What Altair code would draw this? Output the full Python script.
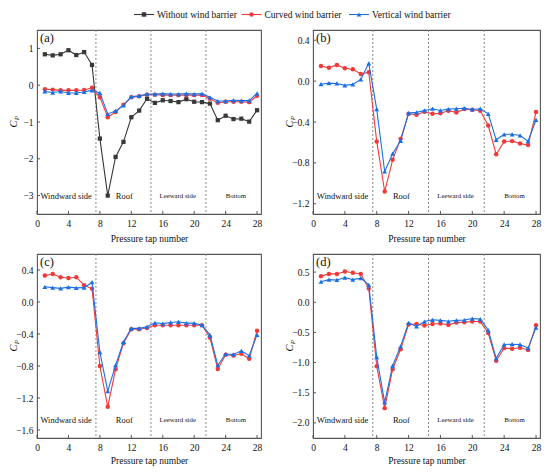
import altair as alt
import pandas as pd

FONT = "Liberation Serif"

taps = list(range(1, 29))
x_ticks = [0, 4, 8, 12, 16, 20, 24, 28]
series_names = ["Without wind barrier", "Curved wind barrier", "Vertical wind barrier"]
series_colors = ["#383838", "#f03a3a", "#1c6fe2"]
series_shapes = ["square", "circle", "triangle-up"]
series_sizes = [18, 20, 24]

divider_x = [7.5, 14.5, 21.5]
region_big = ["Windward side", "Roof"]
region_big_x = [3.7, 11.1]
region_small = ["Leeward side", "Bottom"]
region_small_x = [17.9, 25.3]

# Panel (a)
a_without = [0.84, 0.81, 0.84, 0.95, 0.82, 0.90, 0.55, -1.45, -3.0, -1.95, -1.54, -0.87, -0.69, -0.37,
             -0.48, -0.41, -0.43, -0.46, -0.38, -0.45, -0.46, -0.50, -0.95, -0.83, -0.92, -0.91, -0.99, -0.68]
a_curved = [-0.11, -0.12, -0.14, -0.14, -0.14, -0.13, -0.07, -0.33, -0.87, -0.73, -0.53, -0.33, -0.30, -0.26,
            -0.26, -0.27, -0.27, -0.27, -0.27, -0.27, -0.27, -0.37, -0.48, -0.45, -0.45, -0.45, -0.46, -0.29]
a_vertical = [-0.17, -0.20, -0.17, -0.21, -0.21, -0.18, -0.14, -0.21, -0.78, -0.70, -0.55, -0.31, -0.29, -0.24,
              -0.24, -0.23, -0.24, -0.24, -0.23, -0.24, -0.23, -0.33, -0.43, -0.43, -0.41, -0.42, -0.42, -0.22]
# Panel (b)
b_curved = [0.148, 0.13, 0.158, 0.126, 0.116, 0.07, 0.087, -0.59, -1.08, -0.77, -0.565, -0.32, -0.33, -0.30,
            -0.32, -0.315, -0.29, -0.306, -0.274, -0.28, -0.29, -0.435, -0.716, -0.59, -0.587, -0.61, -0.625, -0.303]
b_vertical = [-0.03, -0.02, -0.023, -0.042, -0.032, 0.016, 0.174, -0.274, -0.884, -0.71, -0.584, -0.313, -0.306, -0.287,
              -0.27, -0.287, -0.274, -0.27, -0.265, -0.277, -0.27, -0.32, -0.574, -0.52, -0.52, -0.532, -0.587, -0.38]
# Panel (c)
c_curved = [0.33, 0.35, 0.31, 0.30, 0.31, 0.21, 0.165, -0.80, -1.31, -0.84, -0.515, -0.34, -0.34, -0.325,
            -0.29, -0.29, -0.29, -0.29, -0.29, -0.29, -0.29, -0.445, -0.837, -0.66, -0.668, -0.647, -0.71, -0.36]
c_vertical = [0.19, 0.18, 0.17, 0.186, 0.177, 0.18, 0.247, -0.627, -1.113, -0.79, -0.50, -0.33, -0.33, -0.31,
              -0.26, -0.27, -0.256, -0.247, -0.264, -0.264, -0.29, -0.41, -0.79, -0.65, -0.656, -0.61, -0.67, -0.41]
# Panel (d)
d_curved = [0.43, 0.47, 0.47, 0.51, 0.49, 0.47, 0.23, -1.06, -1.755, -1.11, -0.78, -0.37, -0.36, -0.385,
            -0.36, -0.353, -0.375, -0.337, -0.33, -0.32, -0.32, -0.51, -0.97, -0.76, -0.77, -0.755, -0.79, -0.38]
d_vertical = [0.34, 0.375, 0.37, 0.41, 0.375, 0.40, 0.29, -0.91, -1.66, -1.05, -0.73, -0.34, -0.40, -0.32,
              -0.29, -0.30, -0.315, -0.30, -0.295, -0.27, -0.28, -0.46, -0.93, -0.70, -0.695, -0.70, -0.76, -0.42]

FRAME = "#555555"


def panel(label, series, ydomain, yticks, yfmt, W, H, title_pad):
    xs = alt.Scale(domain=[0, 28.5], nice=False, zero=False)
    ys = alt.Scale(domain=ydomain, nice=False, zero=False)
    xaxis = alt.Axis(values=x_ticks, title="Pressure tap number", ticks=False, grid=False, domain=False,
                     labelOverlap=False, labelFlush=False, labelBound=False, labelSeparation=0,
                     labelFont=FONT, labelFontSize=9.5, labelPadding=4, labelColor="#111",
                     titleFont=FONT, titleFontSize=9.5, titleFontWeight="normal", titleColor="#111",
                     titlePadding=title_pad)
    yaxis = alt.Axis(values=yticks, format=yfmt, title=None, ticks=False, grid=False, domain=False,
                     labelOverlap=False, labelFlush=False, labelBound=False, labelSeparation=0,
                     labelFont=FONT, labelFontSize=9.5, labelPadding=4, labelColor="#111")

    def X(field):
        return alt.X(field, scale=xs, axis=xaxis)

    def Y(field):
        return alt.Y(field, scale=ys, axis=yaxis)

    layers = []
    # dividers
    div_df = pd.DataFrame({"x": divider_x})
    layers.append(alt.Chart(div_df).mark_rule(color="#8a8a8a", strokeDash=[2, 2], strokeWidth=1).encode(
        x=X("x:Q")))
    # inner ticks
    layers.append(alt.Chart(pd.DataFrame({"x": x_ticks})).mark_rule(color=FRAME, strokeWidth=1).encode(
        x=X("x:Q"), y=alt.value(H), y2=alt.value(H - 3)))
    layers.append(alt.Chart(pd.DataFrame({"y": yticks})).mark_rule(color=FRAME, strokeWidth=1).encode(
        y=Y("y:Q"), x=alt.value(0), x2=alt.value(3)))
    # series
    for name, vals in series:
        i = series_names.index(name)
        df = pd.DataFrame({"tap": taps, "cp": vals})
        layers.append(alt.Chart(df).mark_line(color=series_colors[i], strokeWidth=1.1).encode(
            x=X("tap:Q"), y=Y("cp:Q")))
        layers.append(alt.Chart(df).mark_point(color=series_colors[i], filled=True, opacity=1,
                                               shape=series_shapes[i], size=series_sizes[i]).encode(
            x=X("tap:Q"), y=Y("cp:Q")))
    # region labels
    layers.append(alt.Chart(pd.DataFrame({"x": region_big_x, "t": region_big})).mark_text(
        font=FONT, fontSize=8.5, color="#111", baseline="middle").encode(
        x=X("x:Q"), y=alt.value(H - 18), text="t:N"))
    layers.append(alt.Chart(pd.DataFrame({"x": region_small_x, "t": region_small})).mark_text(
        font=FONT, fontSize=6.8, color="#111", baseline="middle").encode(
        x=X("x:Q"), y=alt.value(H - 18), text="t:N"))
    # panel label
    layers.append(alt.Chart(pd.DataFrame({"t": [label]})).mark_text(
        font=FONT, fontSize=12.5, color="#111", align="left", baseline="top").encode(
        x=alt.value(3), y=alt.value(2), text="t:N"))
    # y title C_P
    layers.append(alt.Chart(pd.DataFrame({"t": ["C"]})).mark_text(
        font=FONT, fontSize=10.5, fontStyle="italic", color="#111", angle=270,
        align="center", baseline="middle").encode(
        x=alt.value(-23), y=alt.value(H / 2 + 2), text="t:N"))
    layers.append(alt.Chart(pd.DataFrame({"t": ["P"]})).mark_text(
        font=FONT, fontSize=7, fontStyle="italic", color="#111", angle=270,
        align="center", baseline="middle").encode(
        x=alt.value(-20), y=alt.value(H / 2 - 4), text="t:N"))
    return alt.layer(*layers).properties(width=W, height=H)


H = 184
pa = panel("(a)", [("Without wind barrier", a_without), ("Curved wind barrier", a_curved),
                   ("Vertical wind barrier", a_vertical)],
           [-3.5, 1.5], [-3, -2, -1, 0, 1], "d", 224, H, 6)
pb = panel("(b)", [("Curved wind barrier", b_curved), ("Vertical wind barrier", b_vertical)],
           [-1.3, 0.5], [-1.2, -0.8, -0.4, 0.0, 0.4], ".1f", 227, H, 6)
pc = panel("(c)", [("Curved wind barrier", c_curved), ("Vertical wind barrier", c_vertical)],
           [-1.7, 0.6], [-1.6, -1.2, -0.8, -0.4, 0.0, 0.4], ".1f", 224, H, 4)
pd_ = panel("(d)", [("Curved wind barrier", d_curved), ("Vertical wind barrier", d_vertical)],
            [-2.25, 0.8], [-2.0, -1.5, -1.0, -0.5, 0.0, 0.5], ".1f", 227, H, 4)

# legend
leg_df = pd.DataFrame({"series": series_names})
lx = alt.X("series:N", scale=alt.Scale(type="point", domain=series_names, range=[107, 322], padding=0), axis=None)
lcolor = alt.Color("series:N", scale=alt.Scale(domain=series_names, range=series_colors), legend=None)
lshape = alt.Shape("series:N", scale=alt.Scale(domain=series_names, range=series_shapes), legend=None)
leg_line = alt.Chart(leg_df).mark_rule(strokeWidth=1.1, xOffset=-10, x2Offset=10).encode(
    x=lx, x2="series:N", y=alt.value(4.5), color=lcolor)
leg_pt = alt.Chart(leg_df).mark_point(filled=True, opacity=1, size=20).encode(
    x=lx, y=alt.value(4.5), color=lcolor, shape=lshape)
leg_txt = alt.Chart(leg_df).mark_text(font=FONT, fontSize=9.5, align="left", baseline="middle",
                                      dx=13, color="#111").encode(x=lx, y=alt.value(4.5), text="series:N")
legend = alt.layer(leg_line, leg_pt, leg_txt).properties(
    width=480, height=9, view=alt.ViewBackground(stroke="transparent"))

row1 = alt.hconcat(pa, pb, spacing=21)
row2 = alt.hconcat(pc, pd_, spacing=21)
chart = alt.vconcat(legend, row1, row2, spacing=8).properties(
    padding=0, background="white"
).configure_view(stroke=FRAME, strokeWidth=1.1).configure_axis(labelOverlap=False)

chart.save("out.html", embed_options={"renderer": "svg", "actions": False})
